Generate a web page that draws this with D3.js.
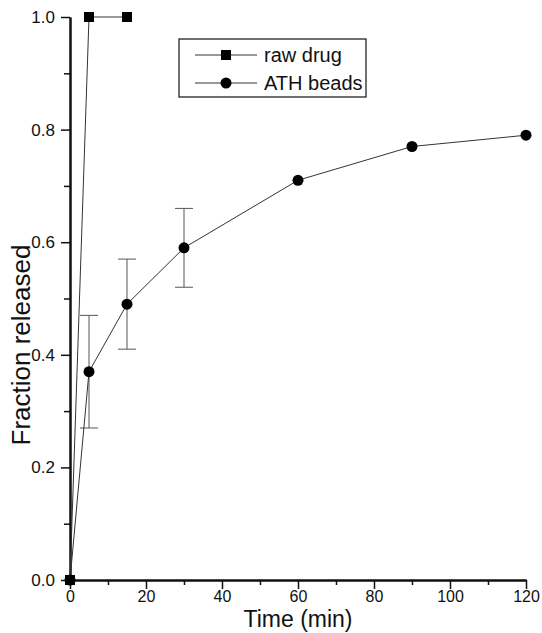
<!DOCTYPE html>
<html>
<head>
<meta charset="utf-8">
<script src="https://cdn.jsdelivr.net/npm/d3@7"></script>
<style>
  body { margin: 0; background: #fff; }
  text { font-family: "Liberation Sans", Arial, sans-serif; fill: #111; }
</style>
</head>
<body>
<svg id="chart" width="542" height="633"></svg>
<script>
const rawTime = [0, 5, 15];
const rawFraction = [0, 1.0, 1.0];

const athTime = [0, 5, 15, 30, 60, 90, 120];
const athFraction = [0, 0.37, 0.49, 0.59, 0.71, 0.77, 0.79];
const athLow = [null, 0.27, 0.41, 0.52, null, null, null];
const athHigh = [null, 0.47, 0.57, 0.66, null, null, null];

const xTicks = [0, 20, 40, 60, 80, 100, 120];
const xMinor = [10, 30, 50, 70, 90, 110];
const yTicks = [0.0, 0.2, 0.4, 0.6, 0.8, 1.0];
const yMinor = [0.1, 0.3, 0.5, 0.7, 0.9];

const svg = d3.select('#chart');

const x = d3.scaleLinear().domain([0, 120]).range([70, 526]);
const y = d3.scaleLinear().domain([0, 1]).range([580, 17]);

const rawData = rawTime.map((t, i) => ({ t: t, v: rawFraction[i] }));
const athData = athTime.map((t, i) => ({ t: t, v: athFraction[i], lo: athLow[i], hi: athHigh[i] }));

// axes
const bottomAxis = d3.axisBottom(x).tickValues(xTicks).tickFormat(d3.format('d')).tickSize(9).tickPadding(2).tickSizeOuter(0);
const bottomMinor = d3.axisBottom(x).tickValues(xMinor).tickFormat('').tickSize(5).tickSizeOuter(0);
const leftAxis = d3.axisLeft(y).tickValues(yTicks).tickFormat(d3.format('.1f')).tickSize(9).tickPadding(6).tickSizeOuter(0);
const leftMinor = d3.axisLeft(y).tickValues(yMinor).tickFormat('').tickSize(6).tickSizeOuter(0);

function styleAxis(g, size) {
  g.attr('font-size', size).attr('font-family', '"Liberation Sans", Arial, sans-serif');
  g.select('.domain').attr('stroke', '#111').attr('stroke-width', 2);
  g.selectAll('.tick line').attr('stroke', '#111').attr('stroke-width', 1.5);
  g.selectAll('.tick text').attr('fill', '#111');
}

svg.append('g').attr('transform', 'translate(0,580)').call(bottomMinor).call(styleAxis, 16);
svg.append('g').attr('transform', 'translate(0,580)').call(bottomAxis).call(styleAxis, 16);
svg.append('g').attr('transform', 'translate(70,0)').call(leftMinor).call(styleAxis, 17);
svg.append('g').attr('transform', 'translate(70,0)').call(leftAxis).call(styleAxis, 17);

// axis titles
svg.append('text')
  .text('Time (min)')
  .attr('x', 298)
  .attr('y', 627)
  .attr('text-anchor', 'middle')
  .style('font-size', '23px');

svg.append('text')
  .text('Fraction released')
  .attr('transform', 'translate(30, 345) rotate(-90)')
  .attr('text-anchor', 'middle')
  .style('font-size', '26px');

const line = d3.line().x((d) => x(d.t)).y((d) => y(d.v));

// error bars
const errs = athData.filter((d) => d.lo !== null);
const errG = svg.append('g').attr('stroke', '#555').attr('stroke-width', 1);
errG.selectAll('line.v').data(errs).enter().append('line')
  .attr('x1', (d) => x(d.t)).attr('x2', (d) => x(d.t))
  .attr('y1', (d) => y(d.lo)).attr('y2', (d) => y(d.hi));
errG.selectAll('line.lo').data(errs).enter().append('line')
  .attr('x1', (d) => x(d.t) - 9).attr('x2', (d) => x(d.t) + 9)
  .attr('y1', (d) => y(d.lo)).attr('y2', (d) => y(d.lo));
errG.selectAll('line.hi').data(errs).enter().append('line')
  .attr('x1', (d) => x(d.t) - 9).attr('x2', (d) => x(d.t) + 9)
  .attr('y1', (d) => y(d.hi)).attr('y2', (d) => y(d.hi));

// lines
svg.append('path').datum(rawData).attr('d', line)
  .attr('fill', 'none').attr('stroke', '#333').attr('stroke-width', 1);
svg.append('path').datum(athData).attr('d', line)
  .attr('fill', 'none').attr('stroke', '#333').attr('stroke-width', 1);

// markers
svg.append('g').selectAll('circle').data(athData).enter().append('circle')
  .attr('cx', (d) => x(d.t)).attr('cy', (d) => y(d.v)).attr('r', 5.5)
  .attr('fill', '#000');
svg.append('g').selectAll('rect').data(rawData).enter().append('rect')
  .attr('x', (d) => x(d.t) - 5).attr('y', (d) => y(d.v) - 5)
  .attr('width', 10).attr('height', 10)
  .attr('fill', '#000');

// legend
const legend = svg.append('g');
legend.append('rect')
  .attr('x', 179).attr('y', 39).attr('width', 187).attr('height', 58)
  .attr('fill', '#fff').attr('stroke', '#111').attr('stroke-width', 1.2);

const legendItems = [
  { label: 'raw drug', shape: 'square', yy: 55 },
  { label: 'ATH beads', shape: 'circle', yy: 83 }
];
legendItems.forEach((item) => {
  legend.append('line')
    .attr('x1', 195).attr('x2', 257).attr('y1', item.yy).attr('y2', item.yy)
    .attr('stroke', '#333').attr('stroke-width', 1);
  if (item.shape === 'square') {
    legend.append('rect').attr('x', 221).attr('y', item.yy - 5)
      .attr('width', 10).attr('height', 10).attr('fill', '#000');
  } else {
    legend.append('circle').attr('cx', 226).attr('cy', item.yy).attr('r', 5.5).attr('fill', '#000');
  }
  legend.append('text')
    .text(item.label)
    .attr('x', 264).attr('y', item.yy + 7)
    .style('font-size', '20px');
});
</script>
</body>
</html>
